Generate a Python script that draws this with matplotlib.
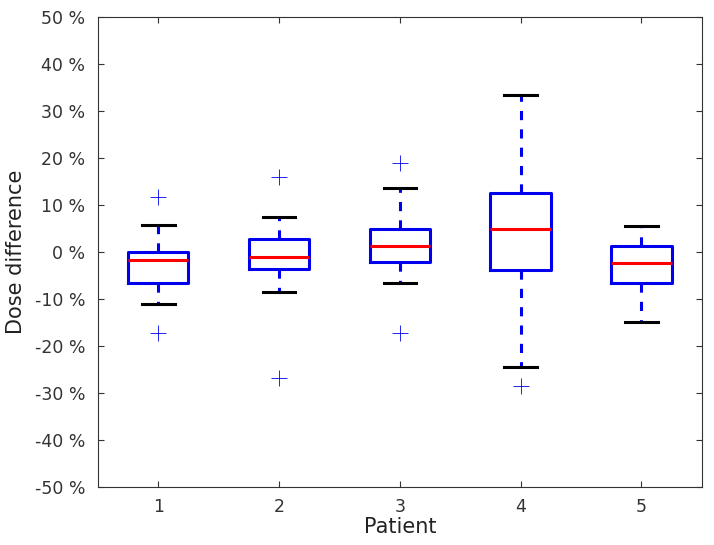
import matplotlib
matplotlib.use('Agg')
import matplotlib.pyplot as plt
from matplotlib.ticker import FuncFormatter

# box statistics (percent)
patients = [1, 2, 3, 4, 5]
whislo = [-11.0, -8.6, -6.7, -24.4, -14.9]
q1 = [-6.7, -3.7, -2.2, -3.75, -6.7]
med = [-1.6, -1.05, 1.2, 4.8, -2.25]
q3 = [0.1, 2.85, 5.0, 12.55, 1.2]
whishi = [5.8, 7.45, 13.55, 33.5, 5.5]
fliers = [[11.8, -17.2], [16.0, -26.7], [19.0, -17.2], [-28.6], []]

stats = []
for i in range(len(patients)):
    stats.append(dict(whislo=whislo[i], q1=q1[i], med=med[i], q3=q3[i],
                      whishi=whishi[i], fliers=fliers[i], label=str(patients[i])))

fig = plt.figure(figsize=(7.14, 5.45), dpi=100)
ax = fig.add_axes([0.137, 0.1064, 0.846, 0.8624])

ax.bxp(stats, positions=patients, widths=0.5, capwidths=0.27,
       boxprops=dict(color='#0000ee', lw=2.2),
       whiskerprops=dict(color='#0000ee', lw=2.2, linestyle=(0, (3, 3))),
       capprops=dict(color='black', lw=2.2),
       medianprops=dict(color='#ff0000', lw=2.2),
       flierprops=dict(marker='+', markeredgecolor='#0000ee', markersize=11,
                       markeredgewidth=0.6, linestyle='none'))

ax.set_xlim(0.5, 5.5)
ax.set_ylim(-50, 50)
ax.set_yticks(range(-50, 51, 10))
ax.yaxis.set_major_formatter(FuncFormatter(lambda v, p: '%d %%' % v))
ax.tick_params(direction='in', top=True, right=True, labelsize=12.5,
               colors='#333333', length=4)
ax.tick_params(axis='x', pad=8)
ax.tick_params(axis='y', pad=9)
for s in ax.spines.values():
    s.set_color('#333333')
ax.set_xlabel('Patient', fontsize=15, color='#222222', labelpad=0.5)
ax.set_ylabel('Dose difference', fontsize=15, color='#222222', labelpad=6)

fig.savefig('out.png', dpi=100)
